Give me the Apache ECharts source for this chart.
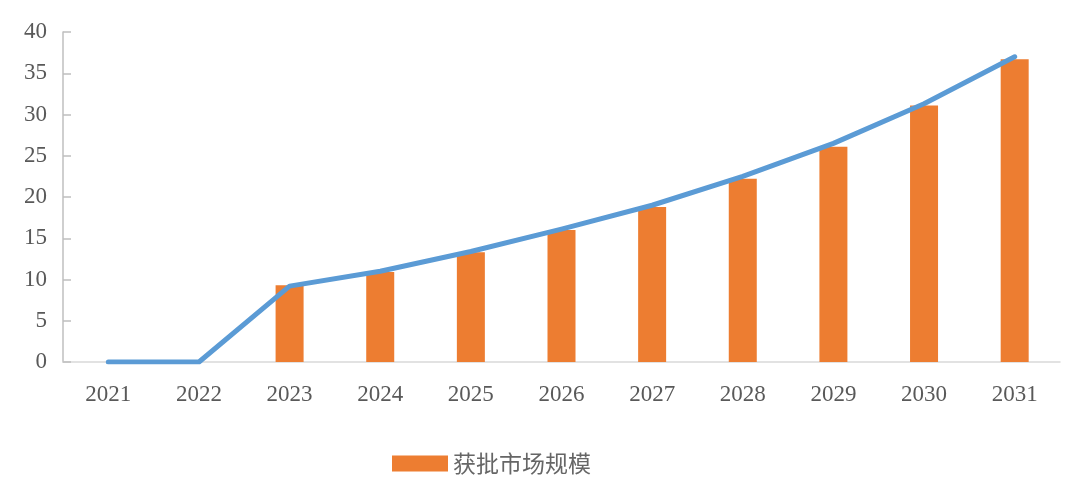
<!DOCTYPE html>
<html>
<head>
<meta charset="utf-8">
<script src="https://cdn.jsdelivr.net/npm/echarts@6/dist/echarts.min.js"></script>
<style>
html,body{margin:0;padding:0;background:#fff;}
#chart{width:1080px;height:503px;}
</style>
</head>
<body>
<div id="chart"></div>
<script>
const categories = ['2021','2022','2023','2024','2025','2026','2027','2028','2029','2030','2031'];
const barValues = [0, 0, 9.3, 10.9, 13.3, 16.0, 18.8, 22.2, 26.1, 31.1, 36.7];
const lineValues = [0, 0, 9.2, 11.0, 13.4, 16.1, 19.0, 22.5, 26.5, 31.3, 37.0];
const yTicks = [0, 5, 10, 15, 20, 25, 30, 35, 40];
const seriesName = '获批市场规模';

const chart = echarts.init(document.getElementById('chart'));
chart.setOption({
  animation: false,
  backgroundColor: '#ffffff',
  grid: {left: 63, right: 20, top: 32, bottom: 141, containLabel: false},
  legend: {
    data: [{name: seriesName, icon: 'rect'}],
    left: 387, top: 447,
    itemWidth: 56, itemHeight: 16, itemGap: 7,
    textStyle: {fontFamily: 'Noto Sans CJK SC', fontSize: 23, color: '#666666'}
  },
  xAxis: {
    type: 'category',
    data: categories,
    boundaryGap: true,
    axisLine: {lineStyle: {color: '#d9d9d9', width: 1.5}},
    axisTick: {show: false},
    axisLabel: {fontFamily: 'Liberation Serif', fontSize: 23, color: '#595959', margin: 21}
  },
  yAxis: {
    type: 'value',
    min: yTicks[0], max: yTicks[yTicks.length - 1], interval: 5,
    axisLine: {show: true, lineStyle: {color: '#bfbfbf', width: 1.5}},
    axisTick: {show: true, inside: true, length: 8, lineStyle: {color: '#bfbfbf', width: 1.5}},
    splitLine: {show: false},
    axisLabel: {fontFamily: 'Liberation Serif', fontSize: 23, color: '#595959', margin: 16}
  },
  series: [
    {
      name: seriesName,
      type: 'bar',
      data: barValues,
      barWidth: 28,
      itemStyle: {color: '#ed7d31'}
    },
    {
      name: 'line',
      type: 'line',
      data: lineValues,
      smooth: false,
      symbol: 'none',
      lineStyle: {color: '#5b9bd5', width: 5, join: 'round', cap: 'round'},
      z: 3
    }
  ]
});
</script>
</body>
</html>
